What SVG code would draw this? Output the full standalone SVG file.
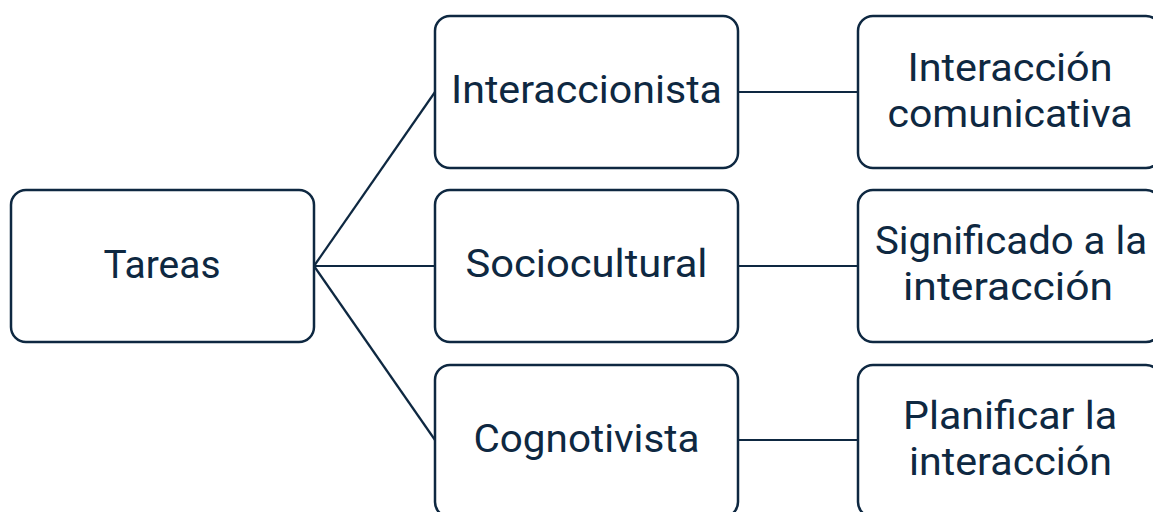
<svg xmlns="http://www.w3.org/2000/svg" width="1153" height="512" viewBox="0 0 1153 512">
<style>
.box{fill:#ffffff;stroke:#0E2841;stroke-width:2.5}
.con{stroke:#0E2841;stroke-width:2.2;fill:none}
text{font-family:Roboto,"Liberation Sans",sans-serif;font-size:38px;fill:#0E2841;text-anchor:middle}
</style>
<rect width="1153" height="512" fill="#ffffff"/>
<g id="connectors">
<line class="con" x1="314" y1="266" x2="435" y2="92"/>
<line class="con" x1="314" y1="266" x2="435" y2="266"/>
<line class="con" x1="314" y1="266" x2="435" y2="440"/>
<line class="con" x1="738" y1="92" x2="858" y2="92"/>
<line class="con" x1="738" y1="266" x2="858" y2="266"/>
<line class="con" x1="738" y1="440" x2="858" y2="440"/>
</g>
<g id="tareas">
<rect class="box" x="11" y="190" width="303" height="152" rx="15"/>
<text x="162" y="278" textLength="117" lengthAdjust="spacingAndGlyphs">Tareas</text>
</g>
<g id="interaccionista">
<rect class="box" x="435" y="16" width="303" height="152" rx="15"/>
<text x="586.5" y="103" textLength="271" lengthAdjust="spacingAndGlyphs">Interaccionista</text>
</g>
<g id="sociocultural">
<rect class="box" x="435" y="190" width="303" height="152" rx="15"/>
<text x="586.5" y="277" textLength="242" lengthAdjust="spacingAndGlyphs">Sociocultural</text>
</g>
<g id="cognotivista">
<rect class="box" x="435" y="365" width="303" height="152" rx="15"/>
<text x="586.5" y="452" textLength="226" lengthAdjust="spacingAndGlyphs">Cognotivista</text>
</g>
<g id="interaccion-comunicativa">
<rect class="box" x="858" y="16" width="303" height="152" rx="15"/>
<text x="1010" y="81" textLength="205" lengthAdjust="spacingAndGlyphs">Interacción</text>
<text x="1010" y="127" textLength="245" lengthAdjust="spacingAndGlyphs">comunicativa</text>
</g>
<g id="significado">
<rect class="box" x="858" y="190" width="303" height="152" rx="15"/>
<text x="1011" y="254" textLength="272" lengthAdjust="spacingAndGlyphs">Significado a la</text>
<text x="1008" y="300" textLength="210" lengthAdjust="spacingAndGlyphs">interacción</text>
</g>
<g id="planificar">
<rect class="box" x="858" y="365" width="303" height="152" rx="15"/>
<text x="1010" y="429" textLength="214" lengthAdjust="spacingAndGlyphs">Planificar la</text>
<text x="1010.5" y="475" textLength="203" lengthAdjust="spacingAndGlyphs">interacción</text>
</g>
</svg>
